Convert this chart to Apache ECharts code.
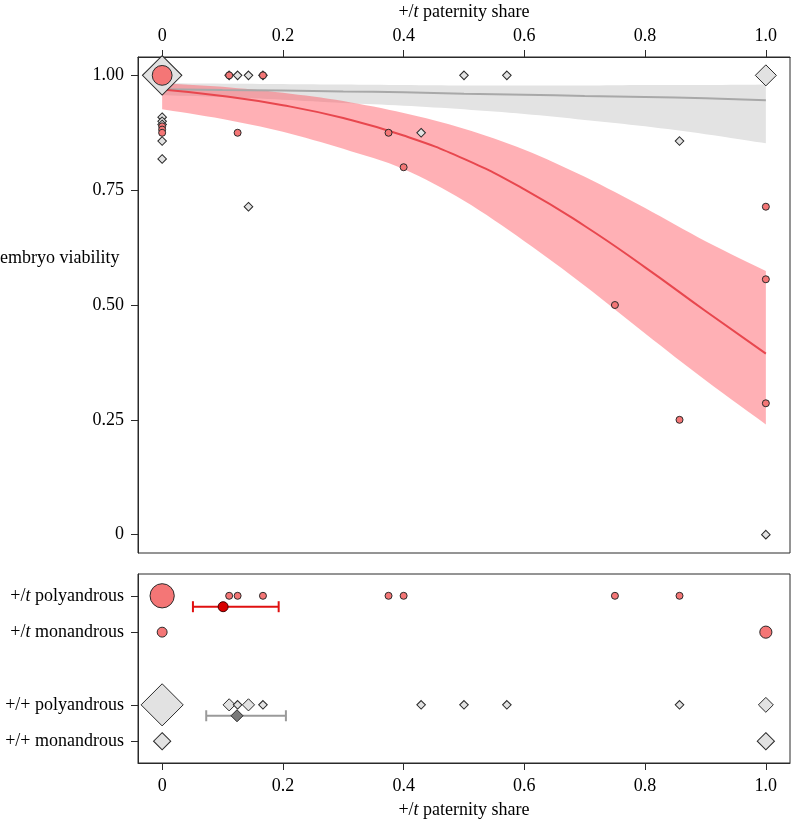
<!DOCTYPE html>
<html><head><meta charset="utf-8">
<script src="https://cdn.jsdelivr.net/npm/echarts@6/dist/echarts.min.js"></script>
<style>html,body{margin:0;padding:0;background:#fff}#c{width:792px;height:820px}</style>
</head><body><div id="c"></div>
<script>
// ---------- data ----------
const xTicks = [0, 0.2, 0.4, 0.6, 0.8, 1.0];
const yTicks = [0, 0.25, 0.5, 0.75, 1.0];

// top panel: +/t females (red circles)
const topTx = [0, 0, 0, 0, 0.111, 0.125, 0.167, 0.375, 0.4, 0.75, 0.857, 1, 1, 1];
const topTy = [1, 0.889, 0.882, 0.875, 1, 0.875, 1, 0.875, 0.8, 0.5, 0.25, 0.714, 0.556, 0.286];
const topTn = [8, 1, 1, 1, 1, 1, 1, 1, 1, 1, 1, 1, 1, 1];

// top panel: +/+ females (grey diamonds)
const topWx = [0, 0, 0, 0, 0, 0, 0.111, 0.125, 0.143, 0.143, 0.167, 0.429, 0.5, 0.571, 0.857, 1, 1];
const topWy = [1, 0.909, 0.9, 0.893, 0.857, 0.818, 1, 1, 1, 0.714, 1, 0.875, 1, 1, 0.857, 1, 0];
const topWn = [21, 1, 1, 1, 1, 1, 1, 1, 1, 1, 1, 1, 1, 1, 1, 6, 1];

// fitted curves and confidence bands
const fitX      = [0, 0.1, 0.2, 0.3, 0.4, 0.5, 0.6, 0.7, 0.8, 0.9, 1.0];
const redFit    = [0.969, 0.955, 0.935, 0.907, 0.869, 0.818, 0.752, 0.672, 0.582, 0.487, 0.394];
const redUpper  = [0.983, 0.975, 0.962, 0.944, 0.918, 0.884, 0.838, 0.779, 0.711, 0.639, 0.574];
const redLower  = [0.926, 0.905, 0.877, 0.840, 0.796, 0.727, 0.639, 0.542, 0.438, 0.336, 0.240];
const greyFit   = [0.970, 0.968, 0.967, 0.965, 0.963, 0.960, 0.958, 0.955, 0.953, 0.950, 0.946];
const greyUpper = [0.983, 0.982, 0.981, 0.980, 0.979, 0.978, 0.978, 0.978, 0.979, 0.979, 0.980];
const greyLower = [0.957, 0.953, 0.947, 0.940, 0.934, 0.926, 0.916, 0.903, 0.889, 0.872, 0.852];

// bottom panel rows
const rowLabels = ['+/+ monandrous', '+/+ polyandrous', '+/t monandrous', '+/t polyandrous'];
const rowPos    = [1, 2, 4, 5];

const tPolyX = [0, 0.111, 0.125, 0.167, 0.375, 0.4, 0.75, 0.857];
const tPolyN = [12, 1, 1, 1, 1, 1, 1, 1];
const tMonoX = [0, 1];
const tMonoN = [2, 3];
const wPolyX = [0, 0.111, 0.125, 0.143, 0.167, 0.429, 0.5, 0.571, 0.857, 1];
const wPolyN = [24, 2, 1, 2, 1, 1, 1, 1, 1, 3];
const wMonoX = [0, 1];
const wMonoN = [4, 4];

// means with intervals for polyandrous groups
const tMean = 0.101, tLo = 0.051, tHi = 0.193;
const wMean = 0.124, wLo = 0.073, wHi = 0.205;

// ---------- chart ----------
const FONT = 'Liberation Serif';
const RED_FILL = '#F47676';
const GREY_FILL = '#E2E2E2';
const EDGE = '#2a2a2a';
const circSize = v => 7 * Math.sqrt(v[2]);
const diaSize = v => 8.6 * Math.sqrt(v[2]);
const rowOf = label => rowPos[rowLabels.indexOf(label)];
const meanOffset = -0.3;

const zip3 = (xs, ys, ns) => xs.map((x, i) => [x, ys[i], ns[i]]);
const rowPts = (xs, ns, label) => xs.map((x, i) => [x, rowOf(label), ns[i]]);

const labelStyle = {fontFamily: FONT, fontSize: 18, color: '#000'};
const richIt = {it: {fontFamily: FONT, fontSize: 18, fontStyle: 'italic', color: '#000'}};
const fmtX = v => (v === 0 ? '0' : v.toFixed(1));
const italT = s => s.replace('+/t', '+/{it|t}');

// visual smoothing of a pixel polyline (Catmull-Rom), like a smoothed line stroke
function smoothPx(pts) {
  const out = [];
  const n = pts.length, steps = 8;
  for (let i = 0; i < n - 1; i++) {
    const p0 = pts[Math.max(i - 1, 0)], p1 = pts[i], p2 = pts[i + 1], p3 = pts[Math.min(i + 2, n - 1)];
    for (let s = 0; s < steps; s++) {
      const t = s / steps, t2 = t * t, t3 = t2 * t;
      const f = k => 0.5 * ((2 * p1[k]) + (-p0[k] + p2[k]) * t +
        (2 * p0[k] - 5 * p1[k] + 4 * p2[k] - p3[k]) * t2 + (-p0[k] + 3 * p1[k] - 3 * p2[k] + p3[k]) * t3);
      out.push([f(0), f(1)]);
    }
  }
  out.push(pts[n - 1]);
  return out;
}

function band(xs, up, lo, fill) {
  return {
    type: 'custom', xAxisIndex: 0, yAxisIndex: 0, z: 1, silent: true,
    data: [[xs[0], up[0]]],
    renderItem: function (params, api) {
      const upPts = smoothPx(xs.map((x, i) => api.coord([x, up[i]])));
      const loPts = smoothPx(xs.map((x, i) => api.coord([x, lo[i]]))).reverse();
      return {type: 'polygon', shape: {points: upPts.concat(loPts)}, style: {fill: fill}};
    }
  };
}

function errBar(label, lo, hi, color, width) {
  return {
    type: 'custom', xAxisIndex: 1, yAxisIndex: 1, z: 5, silent: true,
    data: [[lo, hi]],
    renderItem: function (params, api) {
      const y = rowOf(label) + meanOffset;
      const p1 = api.coord([api.value(0), y]);
      const p2 = api.coord([api.value(1), y]);
      const cap = 5.5;
      const st = {stroke: color, lineWidth: width};
      return {type: 'group', children: [
        {type: 'line', shape: {x1: p1[0], y1: p1[1], x2: p2[0], y2: p2[1]}, style: st},
        {type: 'line', shape: {x1: p1[0], y1: p1[1] - cap, x2: p1[0], y2: p1[1] + cap}, style: st},
        {type: 'line', shape: {x1: p2[0], y1: p2[1] - cap, x2: p2[0], y2: p2[1] + cap}, style: st}
      ]};
    }
  };
}

const axisLineStyle = {show: true, onZero: false, lineStyle: {color: EDGE, width: 1}};
const tickStyle = {show: true, inside: false, length: 7, lineStyle: {color: EDGE, width: 1}};

const chart = echarts.init(document.getElementById('c'), null, {renderer: 'canvas'});
chart.setOption({
  animation: false,
  backgroundColor: '#fff',
  grid: [
    {left: 138, right: 2, top: 57, height: 496, show: true, borderColor: EDGE, borderWidth: 1,
     containLabel: false, outerBoundsMode: 'none'},
    {left: 138, right: 2, top: 574, height: 189, show: true, borderColor: EDGE, borderWidth: 1,
     containLabel: false, outerBoundsMode: 'none'}
  ],
  xAxis: [
    {type: 'value', gridIndex: 0, position: 'top', min: -0.04, max: 1.04,
     axisLine: axisLineStyle, splitLine: {show: false},
     axisTick: Object.assign({customValues: xTicks}, tickStyle),
     axisLabel: Object.assign({customValues: xTicks, formatter: fmtX, margin: 12}, labelStyle),
     name: italT('+/t paternity share'), nameLocation: 'middle', nameGap: 36,
     nameTextStyle: Object.assign({rich: richIt}, labelStyle)},
    {type: 'value', gridIndex: 1, position: 'bottom', min: -0.04, max: 1.04,
     axisLine: axisLineStyle, splitLine: {show: false},
     axisTick: Object.assign({customValues: xTicks}, tickStyle),
     axisLabel: Object.assign({customValues: xTicks, formatter: fmtX, margin: 14}, labelStyle),
     name: italT('+/t paternity share'), nameLocation: 'middle', nameGap: 38,
     nameTextStyle: Object.assign({rich: richIt}, labelStyle)}
  ],
  yAxis: [
    {type: 'value', gridIndex: 0, min: -0.04, max: 1.04,
     axisLine: axisLineStyle, splitLine: {show: false},
     axisTick: Object.assign({customValues: yTicks}, tickStyle),
     axisLabel: Object.assign({customValues: yTicks, formatter: v => (v === 0 ? '0' : v.toFixed(2)), margin: 14}, labelStyle)},
    {type: 'value', gridIndex: 1, min: 0.4, max: 5.6,
     axisLine: axisLineStyle, splitLine: {show: false},
     axisTick: Object.assign({customValues: rowPos}, tickStyle),
     axisLabel: Object.assign({customValues: rowPos, margin: 14, rich: richIt,
       formatter: v => italT(rowLabels[rowPos.indexOf(v)] || '')}, labelStyle)}
  ],
  graphic: [
    {type: 'text', left: 0, top: 249, style: {text: 'embryo viability', font: '18px "Liberation Serif"', fill: '#000'}}
  ],
  series: [
    band(fitX, greyUpper, greyLower, '#E3E3E3'),
    band(fitX, redUpper, redLower, 'rgba(255,80,90,0.45)'),
    {type: 'line', xAxisIndex: 0, yAxisIndex: 0, z: 2, smooth: true, showSymbol: false, silent: true,
     data: fitX.map((x, i) => [x, greyFit[i]]), lineStyle: {color: '#A8A8A8', width: 2}},
    {type: 'line', xAxisIndex: 0, yAxisIndex: 0, z: 2, smooth: true, showSymbol: false, silent: true,
     data: fitX.map((x, i) => [x, redFit[i]]), lineStyle: {color: '#E8474E', width: 2}},
    {type: 'scatter', xAxisIndex: 0, yAxisIndex: 0, z: 3, symbol: 'diamond', symbolSize: diaSize,
     data: zip3(topWx, topWy, topWn), itemStyle: {color: GREY_FILL, borderColor: EDGE, borderWidth: 1, opacity: 1}},
    {type: 'scatter', xAxisIndex: 0, yAxisIndex: 0, z: 4, symbol: 'circle', symbolSize: circSize,
     data: zip3(topTx, topTy, topTn), itemStyle: {color: RED_FILL, borderColor: EDGE, borderWidth: 1, opacity: 1}},
    // bottom panel
    {type: 'scatter', xAxisIndex: 1, yAxisIndex: 1, z: 3, symbol: 'diamond', symbolSize: diaSize,
     data: rowPts(wPolyX, wPolyN, '+/+ polyandrous').concat(rowPts(wMonoX, wMonoN, '+/+ monandrous')),
     itemStyle: {color: GREY_FILL, borderColor: EDGE, borderWidth: 1, opacity: 1}},
    {type: 'scatter', xAxisIndex: 1, yAxisIndex: 1, z: 3, symbol: 'circle', symbolSize: circSize,
     data: rowPts(tPolyX, tPolyN, '+/t polyandrous').concat(rowPts(tMonoX, tMonoN, '+/t monandrous')),
     itemStyle: {color: RED_FILL, borderColor: EDGE, borderWidth: 1, opacity: 1}},
    errBar('+/t polyandrous', tLo, tHi, '#E01010', 2),
    errBar('+/+ polyandrous', wLo, wHi, '#9A9A9A', 2),
    {type: 'scatter', xAxisIndex: 1, yAxisIndex: 1, z: 6, symbol: 'circle', symbolSize: 10,
     data: [[tMean, rowOf('+/t polyandrous') + meanOffset]],
     itemStyle: {color: '#D80000', borderColor: '#400', borderWidth: 1, opacity: 1}},
    {type: 'scatter', xAxisIndex: 1, yAxisIndex: 1, z: 6, symbol: 'diamond', symbolSize: 12,
     data: [[wMean, rowOf('+/+ polyandrous') + meanOffset]],
     itemStyle: {color: '#7A7A7A', borderColor: EDGE, borderWidth: 1, opacity: 1}}
  ]
});
</script>
</body></html>
